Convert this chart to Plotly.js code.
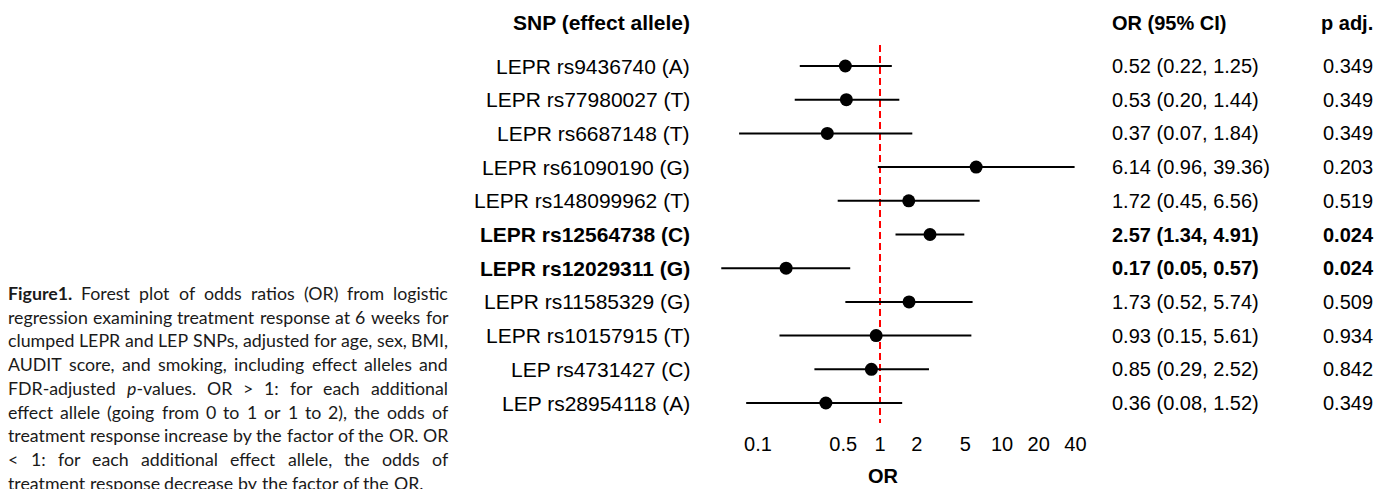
<!DOCTYPE html>
<html>
<head>
<meta charset="utf-8">
<script src="https://cdn.plot.ly/plotly-3.0.1.min.js"></script>
<style>html,body{margin:0;padding:0;background:#fff;}#chart{width:1378px;height:489px;}</style>
</head>
<body>
<div id="chart"></div>
<script>
// ---- data ----
const snps = ["LEPR rs9436740 (A)", "LEPR rs77980027 (T)", "LEPR rs6687148 (T)", "LEPR rs61090190 (G)",
  "LEPR rs148099962 (T)", "LEPR rs12564738 (C)", "LEPR rs12029311 (G)", "LEPR rs11585329 (G)",
  "LEPR rs10157915 (T)", "LEP rs4731427 (C)", "LEP rs28954118 (A)"];
const oddsRatio = [0.52, 0.53, 0.37, 6.14, 1.72, 2.57, 0.17, 1.73, 0.93, 0.85, 0.36];
const ciLower  = [0.22, 0.20, 0.07, 0.96, 0.45, 1.34, 0.05, 0.52, 0.15, 0.29, 0.08];
const ciUpper  = [1.25, 1.44, 1.84, 39.36, 6.56, 4.91, 0.57, 5.74, 5.61, 2.52, 1.52];
const pAdj     = ["0.349", "0.349", "0.349", "0.203", "0.519", "0.024", "0.024", "0.509", "0.934", "0.842", "0.349"];
const tickVals = [0.1, 0.5, 1, 2, 5, 10, 20, 40];
const tickText = ["0.1", "0.5", "1", "2", "5", "10", "20", "40"];
const nullValue = 1;
const headers = {snp: "SNP (effect allele)", or: "OR (95% CI)", p: "p adj."};
const xTitle = "OR";
const captionLines = [
  "<b>Figure1.</b> Forest plot of odds ratios (OR) from logistic",
  "regression examining treatment response at 6 weeks for",
  "clumped LEPR and LEP SNPs, adjusted for age, sex, BMI,",
  "AUDIT score, and smoking, including effect alleles and",
  "FDR-adjusted <i>p</i>-values. OR &gt; 1: for each additional",
  "effect allele (going from 0 to 1 or 1 to 2), the odds of",
  "treatment response increase by the factor of the OR. OR",
  "&lt; 1: for each additional effect allele, the odds of",
  "treatment response decrease by the factor of the OR."
];

// ---- layout helpers ----
const W = 1378, H = 489;
const px = p => p / W;
const py = p => 1 - p / H;
const rows = snps.map((_, i) => i + 1);
const yTopVal = 0.377, yBotVal = 11.593;
const FONT = "Liberation Sans, Arial, sans-serif";
const FS = 20, FS_LABEL = 21;

const isBold = pAdj.map(p => parseFloat(p) < 0.05);
const orText = oddsRatio.map((o, i) => `${o.toFixed(2)} (${ciLower[i].toFixed(2)}, ${ciUpper[i].toFixed(2)})`);
const wrap = (t, b) => b ? `<b>${t}</b>` : t;

const annotations = [];
const mk = (o, size) => Object.assign({showarrow: false, borderpad: 0, borderwidth: 0,
  font: {family: FONT, size: size || FS, color: "#000"}}, o);
// headers
annotations.push(mk({xref: "paper", yref: "paper", x: px(690), y: py(23), xanchor: "right", yanchor: "middle", text: `<b>${headers.snp}</b>`}, FS_LABEL));
annotations.push(mk({xref: "paper", yref: "paper", x: px(1112), y: py(23), xanchor: "left", yanchor: "middle", text: `<b>${headers.or}</b>`}));
annotations.push(mk({xref: "paper", yref: "paper", x: px(1321), y: py(23), xanchor: "left", yanchor: "middle", text: `<b>${headers.p}</b>`}));
rows.forEach((r, i) => {
  annotations.push(mk({xref: "paper", yref: "y", x: px(690), y: r, xanchor: "right", yanchor: "middle", text: wrap(snps[i], isBold[i])}, FS_LABEL));
  annotations.push(mk({xref: "paper", yref: "y", x: px(1112), y: r, xanchor: "left", yanchor: "middle", text: wrap(orText[i], isBold[i])}));
  annotations.push(mk({xref: "paper", yref: "y", x: px(1323), y: r, xanchor: "left", yanchor: "middle", text: wrap(pAdj[i], isBold[i])}));
});

// ---- justified caption ----
const CAP_FONT = "Lato";
const capLeft = 8, capRight = 448, capTop = 293, capStep = 23.7;
const cvs = document.createElement("canvas");
const ctx = cvs.getContext("2d");
const decode = s => s.replace(/&lt;/g, "<").replace(/&gt;/g, ">");
function measure(word, fs) {
  let w = 0; const re = /<(b|i)>(.*?)<\/\1>|([^<]+)/g; let m;
  while ((m = re.exec(word))) {
    if (m[1]) { ctx.font = (m[1] === "b" ? "bold " : "italic ") + fs + "px " + CAP_FONT; w += ctx.measureText(decode(m[2])).width; }
    else { ctx.font = fs + "px " + CAP_FONT; w += ctx.measureText(decode(m[3])).width; }
  }
  return w;
}
let capFs = 18;
{
  let maxW = 0;
  captionLines.forEach(l => {
    const words = l.split(" ");
    const w = words.reduce((a, wd) => a + measure(wd, capFs), 0) + (words.length - 1) * measure(" ", capFs);
    maxW = Math.max(maxW, w);
  });
  if (maxW > capRight - capLeft) capFs = capFs * (capRight - capLeft) / maxW;
}
captionLines.forEach((line, li) => {
  const words = line.split(" ");
  const widths = words.map(w => measure(w, capFs));
  const total = widths.reduce((a, b) => a + b, 0);
  const last = li === captionLines.length - 1;
  const gap = last ? measure(" ", capFs) : (capRight - capLeft - total) / (words.length - 1);
  let x = capLeft;
  words.forEach((w, k) => {
    annotations.push({showarrow: false, borderpad: 0, borderwidth: 0, xref: "paper", yref: "paper",
      x: px(x), y: py(capTop + li * capStep), xanchor: "left", yanchor: "middle", text: w,
      font: {family: CAP_FONT, size: capFs, color: "#1a1a1a"}});
    x += widths[k] + gap;
  });
});

// ---- traces ----
const refLine = {
  x: [nullValue, nullValue], y: [yTopVal, yBotVal], mode: "lines", type: "scatter",
  line: {color: "#ff0000", width: 2, dash: "7px,4px"}, hoverinfo: "skip"
};
const points = {
  x: oddsRatio, y: rows, type: "scatter", mode: "markers",
  marker: {color: "#000", size: 13},
  error_x: {type: "data", symmetric: false,
    array: oddsRatio.map((o, i) => ciUpper[i] - o),
    arrayminus: oddsRatio.map((o, i) => o - ciLower[i]),
    color: "#000", thickness: 2, width: 0},
  cliponaxis: false
};

const xL = 676, xR = 1090, onePx = 880, perDecade = 122;
const layout = {
  width: W, height: H,
  margin: {l: 0, r: 0, t: 0, b: 0},
  paper_bgcolor: "#fff", plot_bgcolor: "rgba(0,0,0,0)",
  showlegend: false,
  xaxis: {
    type: "log", domain: [px(xL), px(xR)],
    range: [(xL - onePx) / perDecade, (xR - onePx) / perDecade],
    tickvals: tickVals, ticktext: tickText, ticks: "", showline: false, showgrid: false, zeroline: false,
    tickfont: {family: FONT, size: FS, color: "#000"}, ticklabelstandoff: 7,
    title: {text: `<b>${xTitle}</b>`, font: {family: FONT, size: FS, color: "#000"}, standoff: 14},
    automargin: false
  },
  yaxis: {
    range: [yBotVal, yTopVal], domain: [py(423), py(45)],
    visible: false, showgrid: false, zeroline: false, automargin: false
  },
  annotations: annotations
};
Plotly.newPlot("chart", [refLine, points], layout, {displayModeBar: false, staticPlot: true});
</script>
</body>
</html>
